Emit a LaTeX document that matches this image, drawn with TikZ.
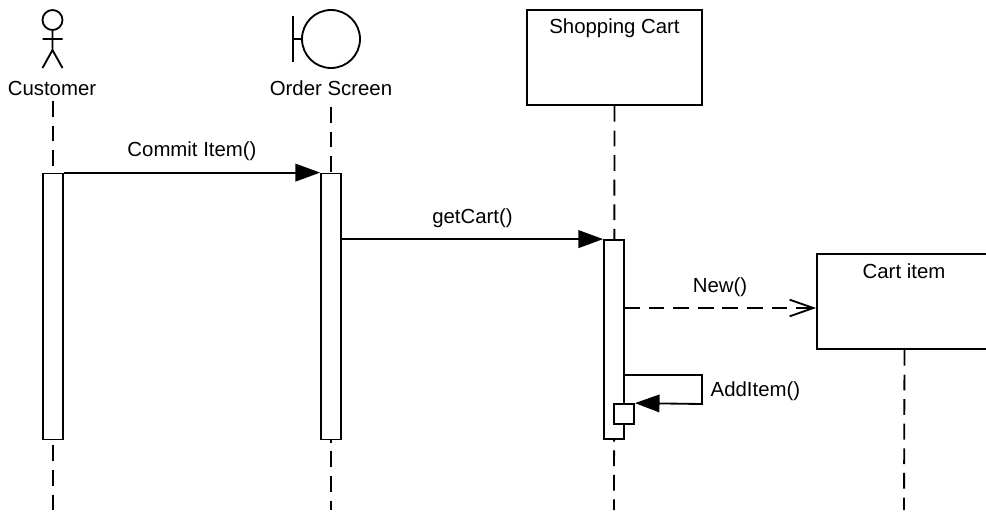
\documentclass[tikz,border=0pt]{standalone}
\usepackage{fontspec}
\setmainfont{Liberation Sans}
\usetikzlibrary{arrows.meta}
\begin{document}
\begin{tikzpicture}[x=0.02cm,y=-0.02cm,font=\fontsize{11.6}{13}\selectfont,line width=1.05pt,lifeline/.style={dash pattern=on 9pt off 5pt},call/.style={-{Triangle[length=14pt,width=10pt]}},reply/.style={dash pattern=on 9pt off 5pt,-{Straight Barb[length=13.5pt,width=9.5pt]}},bar/.style={draw,fill=white,minimum width=0.4cm,inner sep=0pt},objbox/.style={draw,fill=white,minimum height=1.9cm,inner sep=0pt},label/.style={inner sep=1pt}]
\useasboundingbox (0,0) rectangle (986,511);
% lifelines
\node[label] (customer) at (52,88.5) {Customer};
\node[label] (screen) at (331,88.5) {Order Screen};
\node[objbox,minimum width=3.5cm] (cart) at (614.5,57.5) {};
\node[objbox,minimum width=3.5cm] (item) at (904.5,301.5) {};
\node[label] (cartname) at (614.5,28) {Shopping Cart};
\node[label] (itemname) at (904,271) {Cart item};
\coordinate (customerend) at (53,510);
\coordinate (screenend) at (331,510);
\coordinate (cartend) at (614,510);
\coordinate (itemend) at (904,510);
\draw[lifeline] (53,101) -- (customerend);
\draw[lifeline] (331,107) -- (screenend);
\draw[lifeline] (cart.south) -- (cartend);
\draw[lifeline] (item.south) -- (itemend);
\node[bar,minimum height=5.32cm] (customerbar) at (53,306.5) {};
\node[bar,minimum height=5.32cm] (screenbar) at (331,306.5) {};
\node[bar,minimum height=3.98cm] (cartbar) at (614,339.5) {};
\node[bar,minimum height=0.4cm] (selfbar) at (624,414) {};
% actor
\draw (52.5,20) circle (0.2cm);
\draw (52.5,30) -- (52.5,50) (42.5,39) -- (62.5,39) (42.5,68) -- (52.5,50) -- (62.5,68);
% boundary
\draw (331,39) circle (0.58cm);
\draw (293,16) -- (293,62) (293,39) -- (302,39);
% messages
\draw[call] (customerbar.north east) -- (screenbar.north west) node[midway,above=5pt,label] (commitlabel) {Commit Item()};
\draw[call] (screenbar.east |- cartbar.north) -- (cartbar.north west) node[midway,above=5pt,label] (getcartlabel) {getCart()};
\coordinate (newstart) at (624,308);
\draw[reply] (newstart) -- (item.west |- newstart) node[midway,above=5pt,label] (newlabel) {New()};
\coordinate (selfstart) at (624,375);
\coordinate (selfcorner) at (702,375);
\coordinate (selfdown) at (702,404);
\draw[call] (selfstart) -- (selfcorner) -- (selfdown) -- (selfbar.north east);
\node[label,anchor=west] (additem) at (708,391) {AddItem()};
\end{tikzpicture}
\end{document}
